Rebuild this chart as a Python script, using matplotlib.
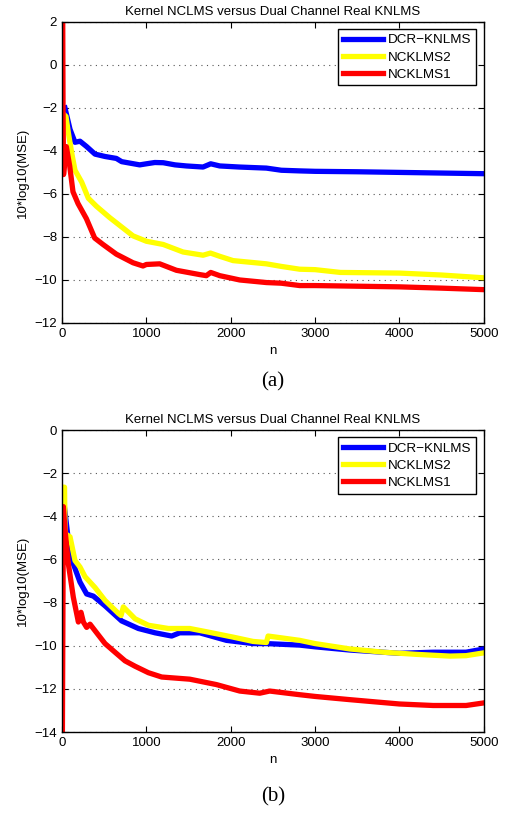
import numpy as np
import matplotlib.pyplot as plt

plt.rcParams['font.family'] = ['Liberation Sans', 'DejaVu Sans']

title = "Kernel NCLMS versus Dual Channel Real KNLMS"
names = ["DCR\u2212KNLMS", "NCKLMS2", "NCKLMS1"]
colors = ["#0000ff", "#ffff00", "#ff0000"]

# (a)
a_blue_n = [35, 95, 154, 213, 292, 391, 510, 644, 707, 921, 1000, 1100, 1200, 1340, 1474,
            1672, 1763, 1870, 2100, 2423, 2600, 2818, 3000, 3500, 4000, 4500, 5000]
a_blue = [-2.0, -3.0, -3.6, -3.55, -3.8, -4.15, -4.26, -4.35, -4.5, -4.65, -4.6, -4.54, -4.55,
          -4.65, -4.7, -4.75, -4.6, -4.7, -4.75, -4.8, -4.9, -4.93, -4.95, -4.97, -5.0, -5.03, -5.06]

a_yel_n = [20, 47, 75, 115, 154, 233, 312, 407, 565, 842, 1000, 1200, 1435, 1672, 1760,
           1870, 2028, 2423, 2600, 2818, 3000, 3300, 4000, 4500, 5000]
a_yel = [-2.3, -2.4, -3.15, -4.1, -4.9, -5.45, -6.2, -6.57, -7.1, -7.95, -8.2, -8.35, -8.7,
         -8.85, -8.75, -8.9, -9.1, -9.25, -9.37, -9.5, -9.52, -9.65, -9.68, -9.77, -9.9]

a_red_n = [8, 12, 18, 51, 91, 130, 190, 289, 387, 486, 644, 842, 960, 1000, 1158, 1356, 1632,
           1711, 1763, 1870, 2107, 2423, 2600, 2818, 3000, 3500, 4000, 4500, 5000]
a_red = [2.5, -2.0, -5.1, -3.8, -4.7, -5.9, -6.45, -7.15, -8.05, -8.35, -8.8, -9.2, -9.35,
         -9.28, -9.25, -9.55, -9.75, -9.8, -9.65, -9.8, -10.0, -10.12, -10.15, -10.26, -10.26,
         -10.29, -10.32, -10.38, -10.45]

# (b)
b_blue_n = [28, 75, 134, 213, 292, 372, 510, 707, 905, 1103, 1300, 1395, 1632, 1949, 2265,
            2423, 2818, 3000, 3415, 4000, 4400, 4790, 5000]
b_blue = [-3.55, -5.1, -6.2, -7.05, -7.6, -7.7, -8.15, -8.85, -9.2, -9.4, -9.55, -9.4, -9.4,
          -9.75, -9.9, -9.9, -9.97, -10.05, -10.2, -10.35, -10.3, -10.3, -10.15]

b_yel_n = [10, 30, 36, 95, 154, 213, 273, 391, 510, 668, 700, 727, 866, 1024, 1261, 1514, 1711,
           2028, 2265, 2423, 2443, 2818, 3000, 3415, 3810, 4205, 4600, 4790, 5000]
b_yel = [-2.65, -2.65, -4.8, -4.95, -6.05, -6.35, -6.8, -7.3, -7.9, -8.5, -8.6, -8.2, -8.75,
         -9.05, -9.2, -9.2, -9.35, -9.6, -9.8, -9.85, -9.55, -9.75, -9.9, -10.15, -10.3, -10.4,
         -10.48, -10.46, -10.33]

b_red_n = [4, 16, 36, 75, 134, 194, 225, 253, 292, 332, 391, 510, 628, 747, 866, 1024, 1182,
           1514, 1830, 2107, 2344, 2462, 2818, 3000, 3415, 4000, 4400, 4790, 5000]
b_red = [-14.5, -3.55, -4.65, -6.2, -7.75, -8.9, -8.45, -8.9, -9.15, -9.0, -9.3, -9.9, -10.3,
         -10.7, -10.95, -11.25, -11.45, -11.55, -11.8, -12.1, -12.2, -12.1, -12.27, -12.35,
         -12.5, -12.7, -12.77, -12.77, -12.65]

fig = plt.figure(figsize=(5.1, 8.14), dpi=100)
ax1 = fig.add_axes([0.1216, 0.6032, 0.827, 0.370])
ax2 = fig.add_axes([0.1216, 0.1007, 0.827, 0.371])

panels = [
    (ax1, [(a_blue_n, a_blue), (a_yel_n, a_yel), (a_red_n, a_red)], (-12, 2), "(a)", -0.196),
    (ax2, [(b_blue_n, b_blue), (b_yel_n, b_yel), (b_red_n, b_red)], (-14, 0), "(b)", -0.215),
]

for ax, series, ylim, tag, tag_y in panels:
    for (n, v), c, lab in zip(series, colors, names):
        ax.plot(n, v, color=c, lw=3.8, label=lab, solid_joinstyle='round')
    ax.set_xlim(0, 5000)
    ax.set_ylim(*ylim)
    ax.set_xticks(np.arange(0, 5001, 1000))
    ax.set_yticks(np.arange(ylim[0], ylim[1] + 1, 2))
    ax.yaxis.grid(True, ls=(0, (1, 4)), color='#555555', lw=0.8)
    ax.tick_params(direction='in', top=True, right=True, labelsize=9.5, length=4)
    for s in ax.spines.values():
        s.set_linewidth(1.0)
    ax.set_title(title, fontsize=9.5, pad=5)
    ax.set_xlabel("n", fontsize=9.5)
    ax.set_ylabel("10*log10(MSE)", fontsize=9.5)
    leg = ax.legend(loc='upper right', fontsize=9.7, fancybox=False, framealpha=1,
                    edgecolor='black', handlelength=3.0, borderaxespad=0.55,
                    labelspacing=0.35, handletextpad=0.35, borderpad=0.35)
    leg.get_frame().set_linewidth(1.0)
    ax.text(0.5, tag_y, tag, transform=ax.transAxes, ha='center', va='center',
            fontsize=15, family=['Liberation Serif', 'DejaVu Serif'])

fig.savefig("out.png", dpi=100)
